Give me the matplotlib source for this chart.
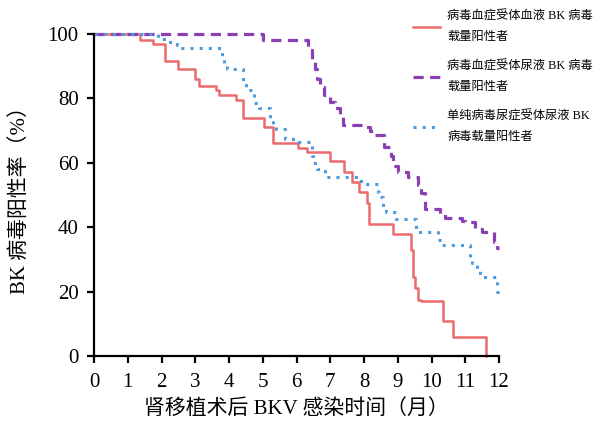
import matplotlib
matplotlib.use('Agg')
import matplotlib.pyplot as plt

plt.rcParams['font.family'] = ['Liberation Serif', 'Noto Sans CJK SC']

# step curves: time (months) where each level starts, and positive rate (%)
serum_t = [0, 1.36, 1.75, 2.1, 2.5, 3.0, 3.1, 3.6, 3.7, 4.2, 4.4, 5.05, 5.3, 6.05, 6.3,
           7.0, 7.4, 7.65, 7.85, 8.1, 8.15, 8.85, 9.4, 9.45, 9.5, 9.6, 9.7, 10.35, 10.65, 11.6]
serum_s = [100, 98, 97, 91.5, 89, 86, 84, 82.5, 81, 79.5, 74, 71, 66, 64.5, 63.5,
           60.5, 57, 54, 51, 47.5, 41, 38, 33, 24.5, 21, 17.5, 17, 11, 6, 0]

urine_t = [0, 5.0, 6.35, 6.45, 6.55, 6.6, 6.7, 6.8, 7.0, 7.15, 7.3, 7.38, 8.05, 8.18, 8.33,
           8.6, 8.8, 8.87, 9.0, 9.3, 9.6, 9.7, 9.8, 10.25, 10.4, 10.9, 11.0, 11.3, 11.5, 11.85, 11.95]
urine_s = [100, 98, 95, 92, 89, 86, 83.5, 81, 79, 77, 74.5, 71.7, 71, 70, 68.5,
           65, 62, 59, 57, 55.5, 53, 50.5, 45.5, 44, 43, 42, 41.5, 39.5, 38.5, 35.5, 33.5]

viruria_t = [0, 1.9, 2.2, 2.45, 2.6, 3.8, 3.85, 3.95, 4.4, 4.5, 4.75, 4.9, 5.2, 5.3, 5.4,
             5.65, 6.0, 6.45, 6.5, 6.6, 6.85, 7.85, 8.0, 8.4, 8.45, 8.55, 8.65, 8.95, 9.55,
             10.2, 10.3, 11.15, 11.2, 11.35, 11.45, 11.95]
viruria_s = [100, 98.5, 97.5, 96.5, 95.5, 93, 91, 89, 85, 82.5, 78.5, 77, 74, 72, 70.5,
             67.5, 66.5, 62, 60, 58, 55.5, 54.5, 53.5, 51, 49.5, 46, 44.7, 42.5, 38.5,
             36, 34.5, 30, 29, 27, 24.6, 20]

labels = ['病毒血症受体血液 BK 病毒\n载量阳性者',
          '病毒血症受体尿液 BK 病毒\n载量阳性者',
          '单纯病毒尿症受体尿液 BK\n病毒载量阳性者']
x_ticks = list(range(0, 13))
y_ticks = [0, 20, 40, 60, 80, 100]


def extend(t, s, end):
    # carry the last level to the end of the curve
    return t + [end], s + [s[-1]]


fig = plt.figure(figsize=(6.02, 4.22), dpi=100)
ax = fig.add_axes([94 / 602, 1 - 356 / 422, 405 / 602, 322 / 422])

t, s = extend(serum_t, serum_s, 11.6)
ax.step(t, s, where='post', color='#ec6b6e', lw=1.8, clip_on=False, label=labels[0])
t, s = extend(urine_t, urine_s, 12.0)
ax.step(t, s, where='post', color='#8a3fb5', lw=2.3, ls=(0, (3.2, 2)), clip_on=False, label=labels[1])
t, s = extend(viruria_t, viruria_s, 12.0)
ax.step(t, s, where='post', color='#4b9be0', lw=2.2, ls=(0, (1, 2)), clip_on=False, label=labels[2])

ax.set_xlim(0, 12)
ax.set_ylim(0, 100)
ax.set_xticks(x_ticks)
ax.set_yticks(y_ticks)
ax.spines['top'].set_visible(False)
ax.spines['right'].set_visible(False)
for sp in ['left', 'bottom']:
    ax.spines[sp].set_linewidth(1.6)
ax.tick_params(width=1.6, length=5, labelsize=15, pad=6)
ax.tick_params(axis='x', pad=7)

ax.set_xlabel('肾移植术后 BKV 感染时间（月）', fontsize=15, labelpad=5)
ax.set_ylabel('BK 病毒阳性率（%）', fontsize=15, labelpad=13)

leg = fig.legend(loc='upper left', bbox_to_anchor=(408 / 602, 1 - 6 / 422), frameon=False,
                 fontsize=8.8, handlelength=2.2, labelspacing=1.45, handletextpad=0.6,
                 borderaxespad=0)
for txt in leg.get_texts():
    txt.set_linespacing(1.9)

fig.savefig('out.png', dpi=100)
